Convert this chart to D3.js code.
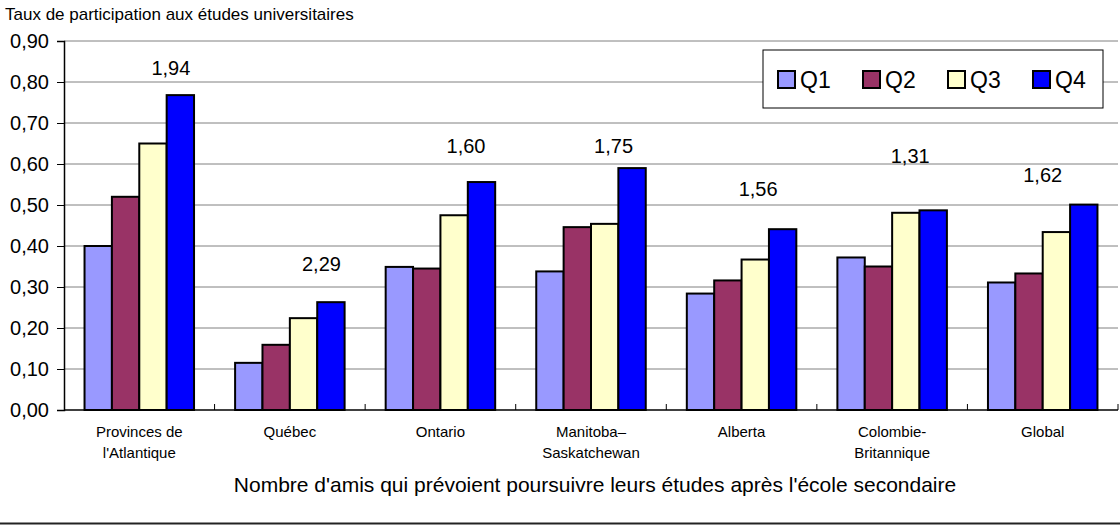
<!DOCTYPE html>
<html>
<head>
<meta charset="utf-8">
<script src="https://cdn.jsdelivr.net/npm/d3@7"></script>
<style>
  body { margin: 0; background: #fff; }
  text { font-family: "Liberation Sans", Arial, sans-serif; fill: #000; }
</style>
</head>
<body>
<div id="chart"></div>
<script>
// data
var regions = [["Provinces de", "l'Atlantique"], ["Québec"], ["Ontario"], ["Manitoba–", "Saskatchewan"],
  ["Alberta"], ["Colombie-", "Britannique"], ["Global"]];
var quartiles = ["Q1", "Q2", "Q3", "Q4"];
var q1 = [0.40, 0.115, 0.349, 0.338, 0.284, 0.372, 0.311];
var q2 = [0.52, 0.159, 0.345, 0.446, 0.316, 0.350, 0.333];
var q3 = [0.65, 0.224, 0.475, 0.454, 0.367, 0.481, 0.434];
var q4 = [0.768, 0.263, 0.556, 0.590, 0.441, 0.487, 0.501];
var ratios = ["1,94", "2,29", "1,60", "1,75", "1,56", "1,31", "1,62"];
var yTicks = [0, 0.1, 0.2, 0.3, 0.4, 0.5, 0.6, 0.7, 0.8, 0.9];
var colors = ["#9999ff", "#993366", "#ffffcc", "#0000ff"];

// where the ratio notes sit: offset within the band, height in axis units
var noteOffset = [0.21, 0.21, 0.17, 0.15, 0.11, 0.12, 0.0];
var noteLevel = [0.835, 0.355, 0.645, 0.645, 0.54, 0.62, 0.574];

var svgWidth = 1120;
var svgHeight = 525;
var margin = { top: 41, right: 2, bottom: 115, left: 64 };
var width = svgWidth - margin.left - margin.right;
var height = svgHeight - margin.top - margin.bottom;

var svg = d3.select("#chart").append("svg")
  .attr("width", svgWidth)
  .attr("height", svgHeight);

var chartGroup = svg.append("g")
  .attr("transform", `translate(${margin.left}, ${margin.top})`);

var series = [q1, q2, q3, q4];

var x0 = d3.scaleBand().domain(d3.range(regions.length)).range([0, width]).paddingInner(0).paddingOuter(0);
var groupW = x0.bandwidth() * 4 / 5.5;
var x1 = d3.scaleBand().domain(d3.range(4)).range([0, groupW]);
var y = d3.scaleLinear().domain([0, 0.9]).range([height, 0]);

// gridlines
chartGroup.append("g").selectAll("line")
  .data(yTicks.slice(1))
  .enter().append("line")
  .attr("x1", 0).attr("x2", width)
  .attr("y1", d => y(d)).attr("y2", d => y(d))
  .attr("stroke", "#808080").attr("stroke-width", 1);

// y axis
var leftAxis = d3.axisLeft(y).tickValues(yTicks).tickSize(7).tickPadding(8)
  .tickFormat(d => d3.format(".2f")(d).replace(".", ","));
var yAxis = chartGroup.append("g").call(leftAxis);
yAxis.select(".domain").attr("stroke", "#000").attr("stroke-width", 1.5);
yAxis.selectAll(".tick line").attr("stroke", "#000");
yAxis.selectAll("text").style("font-size", "20px")
  .style("font-family", "'Liberation Sans', Arial, sans-serif");

// bars
var groups = chartGroup.append("g").selectAll("g")
  .data(d3.range(regions.length))
  .enter().append("g")
  .attr("transform", i => `translate(${x0(i) + (x0.bandwidth() - groupW) / 2},0)`);

groups.selectAll("rect")
  .data(i => series.map((s, k) => ({ k: k, v: s[i] })))
  .enter().append("rect")
  .attr("x", d => x1(d.k))
  .attr("y", d => y(d.v))
  .attr("width", x1.bandwidth())
  .attr("height", d => height - y(d.v))
  .attr("fill", d => colors[d.k])
  .attr("stroke", "#000")
  .attr("stroke-width", 2);

// x axis
chartGroup.append("line")
  .attr("x1", 0).attr("x2", width)
  .attr("y1", height).attr("y2", height)
  .attr("stroke", "#000").attr("stroke-width", 1.5);

chartGroup.append("g").selectAll("line")
  .data(d3.range(1, regions.length + 1))
  .enter().append("line")
  .attr("x1", i => x0.step() * i).attr("x2", i => x0.step() * i)
  .attr("y1", height).attr("y2", height - 6)
  .attr("stroke", "#000");

var catLabels = chartGroup.append("g").selectAll("text")
  .data(regions)
  .enter().append("text")
  .attr("text-anchor", "middle")
  .attr("transform", (d, i) => `translate(${x0(i) + x0.bandwidth() / 2},${height + 27})`)
  .style("font-size", "15px");
catLabels.selectAll("tspan")
  .data(d => d)
  .enter().append("tspan")
  .attr("x", 0)
  .attr("dy", (d, j) => j === 0 ? 0 : 21)
  .text(d => d);

// ratio notes
chartGroup.append("g").selectAll("text")
  .data(ratios)
  .enter().append("text")
  .attr("x", (d, i) => x0(i) + x0.bandwidth() * (0.5 + noteOffset[i]))
  .attr("y", (d, i) => y(noteLevel[i]))
  .attr("dy", "0.35em")
  .attr("text-anchor", "middle")
  .style("font-size", "20px")
  .text(d => d);

// titles
svg.append("text")
  .attr("x", 5).attr("y", 20)
  .style("font-size", "17px")
  .text("Taux de participation aux études universitaires");

svg.append("text")
  .attr("x", 595).attr("y", 492)
  .attr("text-anchor", "middle")
  .style("font-size", "21px")
  .text("Nombre d'amis qui prévoient poursuivre leurs études après l'école secondaire");

svg.append("line")
  .attr("x1", 0).attr("x2", svgWidth)
  .attr("y1", 523.5).attr("y2", 523.5)
  .attr("stroke", "#222").attr("stroke-width", 2);

// legend
var legend = svg.append("g").attr("transform", "translate(763,50)");
legend.append("rect")
  .attr("width", 340).attr("height", 58)
  .attr("fill", "#fff").attr("stroke", "#000").attr("stroke-width", 1);

var items = legend.selectAll(".item")
  .data(quartiles)
  .enter().append("g")
  .attr("transform", (d, i) => `translate(${15 + i * 85},0)`);
items.append("rect")
  .attr("x", 0).attr("y", 21).attr("width", 17).attr("height", 17)
  .attr("fill", (d, i) => colors[i])
  .attr("stroke", "#000").attr("stroke-width", 2);
items.append("text")
  .attr("x", 22).attr("y", 30).attr("dy", "0.36em")
  .style("font-size", "23px")
  .text(d => d);
</script>
</body>
</html>
